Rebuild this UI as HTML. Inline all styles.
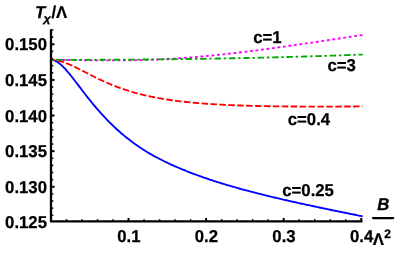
<!DOCTYPE html>
<html><head><meta charset="utf-8"><style>
html,body{margin:0;padding:0;background:#fff;}
body{width:400px;height:256px;overflow:hidden;}
svg{display:block;}
text{font-family:"Liberation Sans",sans-serif;font-weight:bold;font-size:17.2px;fill:#000;stroke:#000;stroke-width:0.25px;stroke-linejoin:round;text-rendering:geometricPrecision;}
svg{will-change:transform;}
</style></head><body>
<svg width="400" height="256" viewBox="0 0 400 256">
<rect width="400" height="256" fill="#fff"/>
<g fill="none" stroke-width="1.85">
<path d="M50.95 59.90 C51.28 59.94 52.26 59.98 52.91 60.12 C53.56 60.26 54.22 60.48 54.87 60.75 C55.52 61.02 56.18 61.36 56.83 61.74 C57.49 62.12 58.14 62.57 58.79 63.05 C59.45 63.53 60.10 64.06 60.75 64.63 C61.41 65.19 62.06 65.80 62.71 66.44 C63.37 67.07 64.02 67.74 64.67 68.44 C65.33 69.13 65.98 69.86 66.64 70.60 C67.29 71.34 67.94 72.11 68.60 72.89 C69.25 73.66 69.90 74.46 70.56 75.27 C71.21 76.08 71.86 76.90 72.52 77.73 C73.17 78.56 73.82 79.40 74.48 80.24 C75.13 81.09 75.79 81.94 76.44 82.79 C77.09 83.64 77.75 84.50 78.40 85.36 C79.05 86.21 79.71 87.07 80.36 87.93 C81.01 88.79 81.67 89.64 82.32 90.49 C82.97 91.35 83.63 92.20 84.28 93.04 C84.94 93.89 85.59 94.73 86.24 95.57 C86.90 96.40 87.55 97.23 88.20 98.06 C88.86 98.88 89.51 99.70 90.16 100.52 C90.82 101.33 91.47 102.14 92.12 102.93 C92.78 103.73 93.43 104.53 94.09 105.31 C94.74 106.09 95.39 106.87 96.05 107.64 C96.70 108.41 97.35 109.17 98.01 109.92 C98.66 110.67 99.31 111.42 99.97 112.15 C100.62 112.89 101.27 113.62 101.93 114.34 C102.58 115.06 103.24 115.77 103.89 116.47 C104.54 117.17 105.20 117.87 105.85 118.55 C106.50 119.24 107.16 119.92 107.81 120.59 C108.46 121.26 109.12 121.92 109.77 122.57 C110.42 123.23 111.08 123.87 111.73 124.51 C112.39 125.15 113.04 125.77 113.69 126.40 C114.35 127.02 115.00 127.63 115.65 128.24 C116.31 128.84 116.96 129.44 117.61 130.03 C118.27 130.62 118.92 131.20 119.57 131.78 C120.23 132.35 120.88 132.92 121.53 133.48 C122.19 134.04 122.84 134.59 123.50 135.14 C124.15 135.68 124.80 136.22 125.46 136.75 C126.11 137.28 126.76 137.81 127.42 138.32 C128.07 138.84 128.72 139.35 129.38 139.85 C130.03 140.36 130.68 140.85 131.34 141.35 C131.99 141.84 132.65 142.32 133.30 142.80 C133.95 143.27 134.61 143.74 135.26 144.21 C135.91 144.67 136.57 145.13 137.22 145.58 C137.87 146.03 138.53 146.48 139.18 146.92 C139.83 147.36 140.49 147.79 141.14 148.22 C141.80 148.65 142.45 149.07 143.10 149.49 C143.76 149.91 144.41 150.32 145.06 150.73 C145.72 151.13 146.37 151.53 147.02 151.93 C147.68 152.32 148.33 152.71 148.98 153.10 C149.64 153.49 150.29 153.87 150.95 154.24 C151.60 154.62 152.25 154.99 152.91 155.36 C153.56 155.72 154.21 156.08 154.87 156.44 C155.52 156.80 156.17 157.15 156.83 157.50 C157.48 157.85 158.13 158.20 158.79 158.54 C159.44 158.88 160.10 159.22 160.75 159.55 C161.40 159.88 162.06 160.21 162.71 160.54 C163.36 160.86 164.02 161.19 164.67 161.51 C165.32 161.82 165.98 162.14 166.63 162.45 C167.28 162.77 167.94 163.07 168.59 163.38 C169.25 163.69 169.90 163.99 170.55 164.29 C171.21 164.59 171.86 164.89 172.51 165.18 C173.17 165.48 173.82 165.77 174.47 166.06 C175.13 166.34 175.78 166.63 176.43 166.91 C177.09 167.20 177.74 167.48 178.39 167.76 C179.05 168.04 179.70 168.31 180.36 168.59 C181.01 168.86 181.66 169.13 182.32 169.40 C182.97 169.67 183.62 169.94 184.28 170.20 C184.93 170.47 185.58 170.73 186.24 170.99 C186.89 171.25 187.54 171.51 188.20 171.76 C188.85 172.02 189.51 172.28 190.16 172.53 C190.81 172.78 191.47 173.03 192.12 173.28 C192.77 173.53 193.43 173.77 194.08 174.02 C194.73 174.26 195.39 174.51 196.04 174.75 C196.69 174.99 197.35 175.23 198.00 175.47 C198.66 175.70 199.31 175.94 199.96 176.17 C200.62 176.41 201.27 176.64 201.92 176.87 C202.58 177.10 203.23 177.33 203.88 177.56 C204.54 177.78 205.19 178.01 205.84 178.23 C206.50 178.46 207.15 178.68 207.81 178.90 C208.46 179.12 209.11 179.34 209.77 179.56 C210.42 179.78 211.07 180.00 211.73 180.21 C212.38 180.43 213.03 180.64 213.69 180.85 C214.34 181.06 214.99 181.28 215.65 181.48 C216.30 181.69 216.96 181.90 217.61 182.11 C218.26 182.32 218.92 182.52 219.57 182.73 C220.22 182.93 220.88 183.13 221.53 183.33 C222.18 183.53 222.84 183.74 223.49 183.93 C224.14 184.13 224.80 184.33 225.45 184.53 C226.11 184.72 226.76 184.92 227.41 185.11 C228.07 185.31 228.72 185.50 229.37 185.69 C230.03 185.89 230.68 186.08 231.33 186.27 C231.99 186.46 232.64 186.64 233.29 186.83 C233.95 187.02 234.60 187.21 235.26 187.39 C235.91 187.58 236.56 187.76 237.22 187.94 C237.87 188.13 238.52 188.31 239.18 188.49 C239.83 188.67 240.48 188.85 241.14 189.03 C241.79 189.21 242.44 189.39 243.10 189.57 C243.75 189.75 244.40 189.92 245.06 190.10 C245.71 190.28 246.37 190.45 247.02 190.63 C247.67 190.80 248.33 190.97 248.98 191.15 C249.63 191.32 250.29 191.49 250.94 191.66 C251.59 191.83 252.25 192.00 252.90 192.17 C253.55 192.34 254.21 192.51 254.86 192.68 C255.52 192.85 256.17 193.01 256.82 193.18 C257.48 193.35 258.13 193.51 258.78 193.68 C259.44 193.84 260.09 194.00 260.74 194.17 C261.40 194.33 262.05 194.49 262.70 194.66 C263.36 194.82 264.01 194.98 264.67 195.14 C265.32 195.30 265.97 195.46 266.63 195.62 C267.28 195.78 267.93 195.94 268.59 196.10 C269.24 196.26 269.89 196.41 270.55 196.57 C271.20 196.73 271.85 196.89 272.51 197.04 C273.16 197.20 273.82 197.35 274.47 197.51 C275.12 197.66 275.78 197.82 276.43 197.97 C277.08 198.13 277.74 198.28 278.39 198.43 C279.04 198.58 279.70 198.74 280.35 198.89 C281.00 199.04 281.66 199.19 282.31 199.34 C282.97 199.49 283.62 199.64 284.27 199.79 C284.93 199.94 285.58 200.09 286.23 200.24 C286.89 200.39 287.54 200.54 288.19 200.69 C288.85 200.83 289.50 200.98 290.15 201.13 C290.81 201.28 291.46 201.42 292.12 201.57 C292.77 201.72 293.42 201.86 294.08 202.01 C294.73 202.15 295.38 202.30 296.04 202.44 C296.69 202.59 297.34 202.73 298.00 202.88 C298.65 203.02 299.30 203.17 299.96 203.31 C300.61 203.45 301.26 203.59 301.92 203.74 C302.57 203.88 303.23 204.02 303.88 204.16 C304.53 204.31 305.19 204.45 305.84 204.59 C306.49 204.73 307.15 204.87 307.80 205.01 C308.45 205.15 309.11 205.29 309.76 205.43 C310.41 205.57 311.07 205.71 311.72 205.85 C312.38 205.99 313.03 206.13 313.68 206.27 C314.34 206.41 314.99 206.55 315.64 206.69 C316.30 206.83 316.95 206.97 317.60 207.10 C318.26 207.24 318.91 207.38 319.56 207.52 C320.22 207.65 320.87 207.79 321.53 207.93 C322.18 208.07 322.83 208.20 323.49 208.34 C324.14 208.48 324.79 208.61 325.45 208.75 C326.10 208.89 326.75 209.02 327.41 209.16 C328.06 209.29 328.71 209.43 329.37 209.56 C330.02 209.70 330.68 209.84 331.33 209.97 C331.98 210.11 332.64 210.24 333.29 210.37 C333.94 210.51 334.60 210.64 335.25 210.78 C335.90 210.91 336.56 211.05 337.21 211.18 C337.86 211.32 338.52 211.45 339.17 211.58 C339.83 211.72 340.48 211.85 341.13 211.98 C341.79 212.12 342.44 212.25 343.09 212.39 C343.75 212.52 344.40 212.65 345.05 212.78 C345.71 212.92 346.36 213.05 347.01 213.18 C347.67 213.32 348.32 213.45 348.98 213.58 C349.63 213.71 350.28 213.85 350.94 213.98 C351.59 214.11 352.24 214.24 352.90 214.38 C353.55 214.51 354.20 214.64 354.86 214.77 C355.51 214.90 356.16 215.04 356.82 215.17 C357.47 215.30 358.13 215.43 358.78 215.56 C359.43 215.70 360.09 215.83 360.74 215.96 C361.39 216.09 362.37 216.29 362.70 216.35" stroke="#0000ff"/>
<path d="M50.95 59.90 C51.28 59.91 52.26 59.92 52.91 59.96 C53.56 60.00 54.22 60.07 54.87 60.15 C55.52 60.23 56.18 60.33 56.83 60.44 C57.49 60.56 58.14 60.69 58.79 60.84 C59.45 60.99 60.10 61.16 60.75 61.34 C61.41 61.52 62.06 61.71 62.71 61.92 C63.37 62.13 64.02 62.35 64.67 62.58 C65.33 62.82 65.98 63.06 66.64 63.32 C67.29 63.57 67.94 63.84 68.60 64.11 C69.25 64.38 69.90 64.67 70.56 64.95 C71.21 65.24 71.86 65.54 72.52 65.84 C73.17 66.15 73.82 66.46 74.48 66.77 C75.13 67.09 75.79 67.40 76.44 67.73 C77.09 68.05 77.75 68.38 78.40 68.71 C79.05 69.04 79.71 69.37 80.36 69.70 C81.01 70.04 81.67 70.37 82.32 70.71 C82.97 71.05 83.63 71.39 84.28 71.72 C84.94 72.06 85.59 72.40 86.24 72.74 C86.90 73.08 87.55 73.42 88.20 73.75 C88.86 74.09 89.51 74.42 90.16 74.76 C90.82 75.09 91.47 75.43 92.12 75.76 C92.78 76.09 93.43 76.42 94.09 76.74 C94.74 77.07 95.39 77.39 96.05 77.72 C96.70 78.04 97.35 78.36 98.01 78.67 C98.66 78.99 99.31 79.30 99.97 79.61 C100.62 79.92 101.27 80.23 101.93 80.53 C102.58 80.83 103.24 81.13 103.89 81.43 C104.54 81.72 105.20 82.02 105.85 82.31 C106.50 82.59 107.16 82.88 107.81 83.16 C108.46 83.44 109.12 83.72 109.77 84.00 C110.42 84.27 111.08 84.54 111.73 84.81 C112.39 85.07 113.04 85.34 113.69 85.60 C114.35 85.86 115.00 86.11 115.65 86.36 C116.31 86.61 116.96 86.86 117.61 87.11 C118.27 87.35 118.92 87.59 119.57 87.83 C120.23 88.06 120.88 88.30 121.53 88.52 C122.19 88.75 122.84 88.98 123.50 89.20 C124.15 89.42 124.80 89.64 125.46 89.86 C126.11 90.07 126.76 90.28 127.42 90.49 C128.07 90.70 128.72 90.90 129.38 91.10 C130.03 91.30 130.68 91.50 131.34 91.69 C131.99 91.89 132.65 92.08 133.30 92.27 C133.95 92.45 134.61 92.64 135.26 92.82 C135.91 93.00 136.57 93.18 137.22 93.35 C137.87 93.53 138.53 93.70 139.18 93.87 C139.83 94.04 140.49 94.20 141.14 94.36 C141.80 94.53 142.45 94.69 143.10 94.84 C143.76 95.00 144.41 95.16 145.06 95.31 C145.72 95.46 146.37 95.61 147.02 95.75 C147.68 95.90 148.33 96.04 148.98 96.18 C149.64 96.33 150.29 96.46 150.95 96.60 C151.60 96.74 152.25 96.87 152.91 97.00 C153.56 97.13 154.21 97.26 154.87 97.39 C155.52 97.51 156.17 97.64 156.83 97.76 C157.48 97.88 158.13 98.00 158.79 98.12 C159.44 98.24 160.10 98.35 160.75 98.46 C161.40 98.58 162.06 98.69 162.71 98.80 C163.36 98.91 164.02 99.01 164.67 99.12 C165.32 99.23 165.98 99.33 166.63 99.43 C167.28 99.53 167.94 99.63 168.59 99.73 C169.25 99.83 169.90 99.92 170.55 100.02 C171.21 100.11 171.86 100.20 172.51 100.29 C173.17 100.38 173.82 100.47 174.47 100.56 C175.13 100.65 175.78 100.73 176.43 100.82 C177.09 100.90 177.74 100.98 178.39 101.06 C179.05 101.15 179.70 101.22 180.36 101.30 C181.01 101.38 181.66 101.46 182.32 101.53 C182.97 101.61 183.62 101.68 184.28 101.75 C184.93 101.83 185.58 101.90 186.24 101.97 C186.89 102.04 187.54 102.10 188.20 102.17 C188.85 102.24 189.51 102.30 190.16 102.37 C190.81 102.43 191.47 102.50 192.12 102.56 C192.77 102.62 193.43 102.68 194.08 102.74 C194.73 102.80 195.39 102.86 196.04 102.92 C196.69 102.98 197.35 103.03 198.00 103.09 C198.66 103.14 199.31 103.20 199.96 103.25 C200.62 103.30 201.27 103.36 201.92 103.41 C202.58 103.46 203.23 103.51 203.88 103.56 C204.54 103.61 205.19 103.66 205.84 103.70 C206.50 103.75 207.15 103.80 207.81 103.84 C208.46 103.89 209.11 103.93 209.77 103.98 C210.42 104.02 211.07 104.07 211.73 104.11 C212.38 104.15 213.03 104.19 213.69 104.23 C214.34 104.27 214.99 104.31 215.65 104.35 C216.30 104.39 216.96 104.43 217.61 104.47 C218.26 104.50 218.92 104.54 219.57 104.58 C220.22 104.61 220.88 104.65 221.53 104.68 C222.18 104.72 222.84 104.75 223.49 104.78 C224.14 104.82 224.80 104.85 225.45 104.88 C226.11 104.91 226.76 104.94 227.41 104.97 C228.07 105.00 228.72 105.03 229.37 105.06 C230.03 105.09 230.68 105.12 231.33 105.15 C231.99 105.18 232.64 105.20 233.29 105.23 C233.95 105.26 234.60 105.28 235.26 105.31 C235.91 105.34 236.56 105.36 237.22 105.39 C237.87 105.41 238.52 105.43 239.18 105.46 C239.83 105.48 240.48 105.50 241.14 105.53 C241.79 105.55 242.44 105.57 243.10 105.59 C243.75 105.61 244.40 105.64 245.06 105.66 C245.71 105.68 246.37 105.70 247.02 105.72 C247.67 105.74 248.33 105.76 248.98 105.77 C249.63 105.79 250.29 105.81 250.94 105.83 C251.59 105.85 252.25 105.87 252.90 105.88 C253.55 105.90 254.21 105.92 254.86 105.93 C255.52 105.95 256.17 105.96 256.82 105.98 C257.48 106.00 258.13 106.01 258.78 106.03 C259.44 106.04 260.09 106.05 260.74 106.07 C261.40 106.08 262.05 106.10 262.70 106.11 C263.36 106.12 264.01 106.14 264.67 106.15 C265.32 106.16 265.97 106.17 266.63 106.18 C267.28 106.20 267.93 106.21 268.59 106.22 C269.24 106.23 269.89 106.24 270.55 106.25 C271.20 106.26 271.85 106.27 272.51 106.28 C273.16 106.29 273.82 106.30 274.47 106.31 C275.12 106.32 275.78 106.33 276.43 106.34 C277.08 106.35 277.74 106.36 278.39 106.36 C279.04 106.37 279.70 106.38 280.35 106.39 C281.00 106.40 281.66 106.40 282.31 106.41 C282.97 106.42 283.62 106.43 284.27 106.43 C284.93 106.44 285.58 106.45 286.23 106.45 C286.89 106.46 287.54 106.46 288.19 106.47 C288.85 106.48 289.50 106.48 290.15 106.49 C290.81 106.49 291.46 106.50 292.12 106.50 C292.77 106.51 293.42 106.51 294.08 106.51 C294.73 106.52 295.38 106.52 296.04 106.53 C296.69 106.53 297.34 106.54 298.00 106.54 C298.65 106.54 299.30 106.55 299.96 106.55 C300.61 106.55 301.26 106.55 301.92 106.56 C302.57 106.56 303.23 106.56 303.88 106.57 C304.53 106.57 305.19 106.57 305.84 106.57 C306.49 106.57 307.15 106.58 307.80 106.58 C308.45 106.58 309.11 106.58 309.76 106.58 C310.41 106.58 311.07 106.58 311.72 106.59 C312.38 106.59 313.03 106.59 313.68 106.59 C314.34 106.59 314.99 106.59 315.64 106.59 C316.30 106.59 316.95 106.59 317.60 106.59 C318.26 106.59 318.91 106.59 319.56 106.59 C320.22 106.59 320.87 106.59 321.53 106.59 C322.18 106.59 322.83 106.59 323.49 106.59 C324.14 106.59 324.79 106.59 325.45 106.59 C326.10 106.58 326.75 106.58 327.41 106.58 C328.06 106.58 328.71 106.58 329.37 106.58 C330.02 106.58 330.68 106.57 331.33 106.57 C331.98 106.57 332.64 106.57 333.29 106.57 C333.94 106.57 334.60 106.56 335.25 106.56 C335.90 106.56 336.56 106.56 337.21 106.55 C337.86 106.55 338.52 106.55 339.17 106.55 C339.83 106.54 340.48 106.54 341.13 106.54 C341.79 106.53 342.44 106.53 343.09 106.53 C343.75 106.53 344.40 106.52 345.05 106.52 C345.71 106.52 346.36 106.51 347.01 106.51 C347.67 106.51 348.32 106.50 348.98 106.50 C349.63 106.49 350.28 106.49 350.94 106.49 C351.59 106.48 352.24 106.48 352.90 106.48 C353.55 106.47 354.20 106.47 354.86 106.46 C355.51 106.46 356.16 106.45 356.82 106.45 C357.47 106.45 358.13 106.44 358.78 106.44 C359.43 106.43 360.09 106.43 360.74 106.42 C361.39 106.42 362.37 106.41 362.70 106.41" stroke="#ff0000" stroke-dasharray="6.52 2.395" stroke-dashoffset="2.2"/>
<path d="M50.95 59.90 C51.28 59.90 52.26 59.90 52.91 59.90 C53.56 59.90 54.22 59.90 54.87 59.91 C55.52 59.91 56.18 59.91 56.83 59.92 C57.49 59.92 58.14 59.92 58.79 59.93 C59.45 59.93 60.10 59.94 60.75 59.94 C61.41 59.95 62.06 59.95 62.71 59.96 C63.37 59.96 64.02 59.97 64.67 59.98 C65.33 59.98 65.98 59.99 66.64 60.00 C67.29 60.00 67.94 60.01 68.60 60.02 C69.25 60.03 69.90 60.03 70.56 60.04 C71.21 60.05 71.86 60.06 72.52 60.07 C73.17 60.07 73.82 60.08 74.48 60.09 C75.13 60.10 75.79 60.11 76.44 60.12 C77.09 60.13 77.75 60.13 78.40 60.14 C79.05 60.15 79.71 60.16 80.36 60.17 C81.01 60.18 81.67 60.19 82.32 60.19 C82.97 60.20 83.63 60.21 84.28 60.22 C84.94 60.23 85.59 60.24 86.24 60.24 C86.90 60.25 87.55 60.26 88.20 60.27 C88.86 60.28 89.51 60.28 90.16 60.29 C90.82 60.30 91.47 60.31 92.12 60.31 C92.78 60.32 93.43 60.33 94.09 60.33 C94.74 60.34 95.39 60.35 96.05 60.35 C96.70 60.36 97.35 60.36 98.01 60.37 C98.66 60.38 99.31 60.38 99.97 60.39 C100.62 60.39 101.27 60.39 101.93 60.40 C102.58 60.40 103.24 60.41 103.89 60.41 C104.54 60.41 105.20 60.42 105.85 60.42 C106.50 60.42 107.16 60.42 107.81 60.43 C108.46 60.43 109.12 60.43 109.77 60.43 C110.42 60.43 111.08 60.43 111.73 60.43 C112.39 60.43 113.04 60.43 113.69 60.43 C114.35 60.43 115.00 60.43 115.65 60.43 C116.31 60.42 116.96 60.42 117.61 60.42 C118.27 60.42 118.92 60.41 119.57 60.41 C120.23 60.40 120.88 60.40 121.53 60.39 C122.19 60.39 122.84 60.38 123.50 60.38 C124.15 60.37 124.80 60.36 125.46 60.36 C126.11 60.35 126.76 60.34 127.42 60.33 C128.07 60.33 128.72 60.32 129.38 60.31 C130.03 60.30 130.68 60.29 131.34 60.28 C131.99 60.26 132.65 60.25 133.30 60.24 C133.95 60.23 134.61 60.22 135.26 60.20 C135.91 60.19 136.57 60.18 137.22 60.16 C137.87 60.15 138.53 60.13 139.18 60.11 C139.83 60.10 140.49 60.08 141.14 60.07 C141.80 60.05 142.45 60.03 143.10 60.01 C143.76 59.99 144.41 59.97 145.06 59.95 C145.72 59.93 146.37 59.91 147.02 59.89 C147.68 59.87 148.33 59.85 148.98 59.83 C149.64 59.80 150.29 59.78 150.95 59.76 C151.60 59.73 152.25 59.71 152.91 59.68 C153.56 59.66 154.21 59.63 154.87 59.60 C155.52 59.58 156.17 59.55 156.83 59.52 C157.48 59.49 158.13 59.46 158.79 59.43 C159.44 59.40 160.10 59.37 160.75 59.34 C161.40 59.31 162.06 59.28 162.71 59.25 C163.36 59.22 164.02 59.18 164.67 59.15 C165.32 59.12 165.98 59.08 166.63 59.05 C167.28 59.01 167.94 58.97 168.59 58.94 C169.25 58.90 169.90 58.86 170.55 58.83 C171.21 58.79 171.86 58.75 172.51 58.71 C173.17 58.67 173.82 58.63 174.47 58.59 C175.13 58.55 175.78 58.51 176.43 58.47 C177.09 58.42 177.74 58.38 178.39 58.34 C179.05 58.29 179.70 58.25 180.36 58.21 C181.01 58.16 181.66 58.11 182.32 58.07 C182.97 58.02 183.62 57.98 184.28 57.93 C184.93 57.88 185.58 57.83 186.24 57.78 C186.89 57.73 187.54 57.68 188.20 57.63 C188.85 57.58 189.51 57.53 190.16 57.48 C190.81 57.43 191.47 57.38 192.12 57.33 C192.77 57.27 193.43 57.22 194.08 57.17 C194.73 57.11 195.39 57.06 196.04 57.00 C196.69 56.95 197.35 56.89 198.00 56.83 C198.66 56.78 199.31 56.72 199.96 56.66 C200.62 56.60 201.27 56.54 201.92 56.49 C202.58 56.43 203.23 56.37 203.88 56.31 C204.54 56.25 205.19 56.19 205.84 56.12 C206.50 56.06 207.15 56.00 207.81 55.94 C208.46 55.87 209.11 55.81 209.77 55.75 C210.42 55.68 211.07 55.62 211.73 55.55 C212.38 55.49 213.03 55.42 213.69 55.36 C214.34 55.29 214.99 55.22 215.65 55.16 C216.30 55.09 216.96 55.02 217.61 54.95 C218.26 54.89 218.92 54.82 219.57 54.75 C220.22 54.68 220.88 54.61 221.53 54.54 C222.18 54.47 222.84 54.40 223.49 54.33 C224.14 54.25 224.80 54.18 225.45 54.11 C226.11 54.04 226.76 53.96 227.41 53.89 C228.07 53.82 228.72 53.74 229.37 53.67 C230.03 53.60 230.68 53.52 231.33 53.44 C231.99 53.37 232.64 53.29 233.29 53.22 C233.95 53.14 234.60 53.06 235.26 52.99 C235.91 52.91 236.56 52.83 237.22 52.76 C237.87 52.68 238.52 52.60 239.18 52.52 C239.83 52.44 240.48 52.36 241.14 52.28 C241.79 52.20 242.44 52.12 243.10 52.04 C243.75 51.96 244.40 51.88 245.06 51.80 C245.71 51.72 246.37 51.64 247.02 51.56 C247.67 51.47 248.33 51.39 248.98 51.31 C249.63 51.23 250.29 51.14 250.94 51.06 C251.59 50.98 252.25 50.89 252.90 50.81 C253.55 50.72 254.21 50.64 254.86 50.55 C255.52 50.47 256.17 50.38 256.82 50.30 C257.48 50.21 258.13 50.13 258.78 50.04 C259.44 49.96 260.09 49.87 260.74 49.78 C261.40 49.70 262.05 49.61 262.70 49.52 C263.36 49.43 264.01 49.35 264.67 49.26 C265.32 49.17 265.97 49.08 266.63 49.00 C267.28 48.91 267.93 48.82 268.59 48.73 C269.24 48.64 269.89 48.55 270.55 48.46 C271.20 48.37 271.85 48.28 272.51 48.19 C273.16 48.10 273.82 48.01 274.47 47.92 C275.12 47.83 275.78 47.74 276.43 47.65 C277.08 47.56 277.74 47.47 278.39 47.38 C279.04 47.29 279.70 47.20 280.35 47.11 C281.00 47.01 281.66 46.92 282.31 46.83 C282.97 46.74 283.62 46.65 284.27 46.55 C284.93 46.46 285.58 46.37 286.23 46.28 C286.89 46.18 287.54 46.09 288.19 46.00 C288.85 45.90 289.50 45.81 290.15 45.72 C290.81 45.63 291.46 45.53 292.12 45.44 C292.77 45.34 293.42 45.25 294.08 45.16 C294.73 45.06 295.38 44.97 296.04 44.87 C296.69 44.78 297.34 44.69 298.00 44.59 C298.65 44.50 299.30 44.40 299.96 44.31 C300.61 44.21 301.26 44.12 301.92 44.02 C302.57 43.93 303.23 43.83 303.88 43.74 C304.53 43.64 305.19 43.55 305.84 43.45 C306.49 43.36 307.15 43.26 307.80 43.16 C308.45 43.07 309.11 42.97 309.76 42.88 C310.41 42.78 311.07 42.69 311.72 42.59 C312.38 42.49 313.03 42.40 313.68 42.30 C314.34 42.20 314.99 42.11 315.64 42.01 C316.30 41.92 316.95 41.82 317.60 41.72 C318.26 41.63 318.91 41.53 319.56 41.43 C320.22 41.33 320.87 41.24 321.53 41.14 C322.18 41.04 322.83 40.95 323.49 40.85 C324.14 40.75 324.79 40.65 325.45 40.56 C326.10 40.46 326.75 40.36 327.41 40.26 C328.06 40.17 328.71 40.07 329.37 39.97 C330.02 39.87 330.68 39.78 331.33 39.68 C331.98 39.58 332.64 39.48 333.29 39.38 C333.94 39.29 334.60 39.19 335.25 39.09 C335.90 38.99 336.56 38.89 337.21 38.79 C337.86 38.69 338.52 38.60 339.17 38.50 C339.83 38.40 340.48 38.30 341.13 38.20 C341.79 38.10 342.44 38.00 343.09 37.90 C343.75 37.80 344.40 37.70 345.05 37.60 C345.71 37.50 346.36 37.40 347.01 37.30 C347.67 37.20 348.32 37.10 348.98 37.00 C349.63 36.90 350.28 36.80 350.94 36.70 C351.59 36.60 352.24 36.50 352.90 36.40 C353.55 36.30 354.20 36.20 354.86 36.10 C355.51 36.00 356.16 35.89 356.82 35.79 C357.47 35.69 358.13 35.59 358.78 35.49 C359.43 35.39 360.09 35.28 360.74 35.18 C361.39 35.08 362.37 34.92 362.70 34.87" stroke="#ff00ff" stroke-dasharray="2.9 2.64"/>
<path d="M50.95 59.90 C51.28 59.90 52.26 59.90 52.91 59.90 C53.56 59.90 54.22 59.90 54.87 59.90 C55.52 59.90 56.18 59.90 56.83 59.90 C57.49 59.90 58.14 59.90 58.79 59.90 C59.45 59.90 60.10 59.90 60.75 59.90 C61.41 59.90 62.06 59.89 62.71 59.89 C63.37 59.89 64.02 59.89 64.67 59.89 C65.33 59.89 65.98 59.89 66.64 59.89 C67.29 59.89 67.94 59.89 68.60 59.89 C69.25 59.89 69.90 59.88 70.56 59.88 C71.21 59.88 71.86 59.88 72.52 59.88 C73.17 59.88 73.82 59.88 74.48 59.88 C75.13 59.88 75.79 59.87 76.44 59.87 C77.09 59.87 77.75 59.87 78.40 59.87 C79.05 59.87 79.71 59.86 80.36 59.86 C81.01 59.86 81.67 59.86 82.32 59.86 C82.97 59.86 83.63 59.85 84.28 59.85 C84.94 59.85 85.59 59.85 86.24 59.85 C86.90 59.84 87.55 59.84 88.20 59.84 C88.86 59.84 89.51 59.84 90.16 59.83 C90.82 59.83 91.47 59.83 92.12 59.83 C92.78 59.82 93.43 59.82 94.09 59.82 C94.74 59.82 95.39 59.81 96.05 59.81 C96.70 59.81 97.35 59.81 98.01 59.80 C98.66 59.80 99.31 59.80 99.97 59.80 C100.62 59.79 101.27 59.79 101.93 59.79 C102.58 59.78 103.24 59.78 103.89 59.78 C104.54 59.77 105.20 59.77 105.85 59.77 C106.50 59.76 107.16 59.76 107.81 59.76 C108.46 59.75 109.12 59.75 109.77 59.75 C110.42 59.74 111.08 59.74 111.73 59.74 C112.39 59.73 113.04 59.73 113.69 59.73 C114.35 59.72 115.00 59.72 115.65 59.71 C116.31 59.71 116.96 59.71 117.61 59.70 C118.27 59.70 118.92 59.69 119.57 59.69 C120.23 59.69 120.88 59.68 121.53 59.68 C122.19 59.67 122.84 59.67 123.50 59.67 C124.15 59.66 124.80 59.66 125.46 59.65 C126.11 59.65 126.76 59.64 127.42 59.64 C128.07 59.63 128.72 59.63 129.38 59.62 C130.03 59.62 130.68 59.61 131.34 59.61 C131.99 59.60 132.65 59.60 133.30 59.59 C133.95 59.59 134.61 59.58 135.26 59.58 C135.91 59.57 136.57 59.57 137.22 59.56 C137.87 59.56 138.53 59.55 139.18 59.55 C139.83 59.54 140.49 59.54 141.14 59.53 C141.80 59.53 142.45 59.52 143.10 59.51 C143.76 59.51 144.41 59.50 145.06 59.50 C145.72 59.49 146.37 59.48 147.02 59.48 C147.68 59.47 148.33 59.47 148.98 59.46 C149.64 59.45 150.29 59.45 150.95 59.44 C151.60 59.44 152.25 59.43 152.91 59.42 C153.56 59.42 154.21 59.41 154.87 59.40 C155.52 59.40 156.17 59.39 156.83 59.38 C157.48 59.38 158.13 59.37 158.79 59.36 C159.44 59.36 160.10 59.35 160.75 59.34 C161.40 59.34 162.06 59.33 162.71 59.32 C163.36 59.31 164.02 59.31 164.67 59.30 C165.32 59.29 165.98 59.28 166.63 59.28 C167.28 59.27 167.94 59.26 168.59 59.25 C169.25 59.25 169.90 59.24 170.55 59.23 C171.21 59.22 171.86 59.22 172.51 59.21 C173.17 59.20 173.82 59.19 174.47 59.18 C175.13 59.18 175.78 59.17 176.43 59.16 C177.09 59.15 177.74 59.14 178.39 59.14 C179.05 59.13 179.70 59.12 180.36 59.11 C181.01 59.10 181.66 59.09 182.32 59.08 C182.97 59.08 183.62 59.07 184.28 59.06 C184.93 59.05 185.58 59.04 186.24 59.03 C186.89 59.02 187.54 59.01 188.20 59.01 C188.85 59.00 189.51 58.99 190.16 58.98 C190.81 58.97 191.47 58.96 192.12 58.95 C192.77 58.94 193.43 58.93 194.08 58.92 C194.73 58.91 195.39 58.90 196.04 58.89 C196.69 58.88 197.35 58.87 198.00 58.86 C198.66 58.85 199.31 58.84 199.96 58.83 C200.62 58.82 201.27 58.81 201.92 58.80 C202.58 58.79 203.23 58.78 203.88 58.77 C204.54 58.76 205.19 58.75 205.84 58.74 C206.50 58.73 207.15 58.72 207.81 58.71 C208.46 58.70 209.11 58.69 209.77 58.68 C210.42 58.67 211.07 58.66 211.73 58.64 C212.38 58.63 213.03 58.62 213.69 58.61 C214.34 58.60 214.99 58.59 215.65 58.58 C216.30 58.57 216.96 58.56 217.61 58.54 C218.26 58.53 218.92 58.52 219.57 58.51 C220.22 58.50 220.88 58.49 221.53 58.47 C222.18 58.46 222.84 58.45 223.49 58.44 C224.14 58.43 224.80 58.41 225.45 58.40 C226.11 58.39 226.76 58.38 227.41 58.37 C228.07 58.35 228.72 58.34 229.37 58.33 C230.03 58.32 230.68 58.30 231.33 58.29 C231.99 58.28 232.64 58.27 233.29 58.25 C233.95 58.24 234.60 58.23 235.26 58.21 C235.91 58.20 236.56 58.19 237.22 58.18 C237.87 58.16 238.52 58.15 239.18 58.14 C239.83 58.12 240.48 58.11 241.14 58.10 C241.79 58.08 242.44 58.07 243.10 58.06 C243.75 58.04 244.40 58.03 245.06 58.01 C245.71 58.00 246.37 57.99 247.02 57.97 C247.67 57.96 248.33 57.94 248.98 57.93 C249.63 57.92 250.29 57.90 250.94 57.89 C251.59 57.87 252.25 57.86 252.90 57.84 C253.55 57.83 254.21 57.82 254.86 57.80 C255.52 57.79 256.17 57.77 256.82 57.76 C257.48 57.74 258.13 57.73 258.78 57.71 C259.44 57.70 260.09 57.68 260.74 57.67 C261.40 57.65 262.05 57.64 262.70 57.62 C263.36 57.60 264.01 57.59 264.67 57.57 C265.32 57.56 265.97 57.54 266.63 57.53 C267.28 57.51 267.93 57.50 268.59 57.48 C269.24 57.46 269.89 57.45 270.55 57.43 C271.20 57.41 271.85 57.40 272.51 57.38 C273.16 57.37 273.82 57.35 274.47 57.33 C275.12 57.32 275.78 57.30 276.43 57.28 C277.08 57.27 277.74 57.25 278.39 57.23 C279.04 57.22 279.70 57.20 280.35 57.18 C281.00 57.17 281.66 57.15 282.31 57.13 C282.97 57.11 283.62 57.10 284.27 57.08 C284.93 57.06 285.58 57.04 286.23 57.03 C286.89 57.01 287.54 56.99 288.19 56.97 C288.85 56.96 289.50 56.94 290.15 56.92 C290.81 56.90 291.46 56.88 292.12 56.87 C292.77 56.85 293.42 56.83 294.08 56.81 C294.73 56.79 295.38 56.77 296.04 56.76 C296.69 56.74 297.34 56.72 298.00 56.70 C298.65 56.68 299.30 56.66 299.96 56.64 C300.61 56.62 301.26 56.61 301.92 56.59 C302.57 56.57 303.23 56.55 303.88 56.53 C304.53 56.51 305.19 56.49 305.84 56.47 C306.49 56.45 307.15 56.43 307.80 56.41 C308.45 56.39 309.11 56.37 309.76 56.35 C310.41 56.33 311.07 56.31 311.72 56.29 C312.38 56.27 313.03 56.25 313.68 56.23 C314.34 56.21 314.99 56.19 315.64 56.17 C316.30 56.15 316.95 56.13 317.60 56.11 C318.26 56.09 318.91 56.07 319.56 56.05 C320.22 56.03 320.87 56.01 321.53 55.98 C322.18 55.96 322.83 55.94 323.49 55.92 C324.14 55.90 324.79 55.88 325.45 55.86 C326.10 55.84 326.75 55.81 327.41 55.79 C328.06 55.77 328.71 55.75 329.37 55.73 C330.02 55.70 330.68 55.68 331.33 55.66 C331.98 55.64 332.64 55.62 333.29 55.59 C333.94 55.57 334.60 55.55 335.25 55.53 C335.90 55.50 336.56 55.48 337.21 55.46 C337.86 55.44 338.52 55.41 339.17 55.39 C339.83 55.37 340.48 55.35 341.13 55.32 C341.79 55.30 342.44 55.28 343.09 55.25 C343.75 55.23 344.40 55.21 345.05 55.18 C345.71 55.16 346.36 55.14 347.01 55.11 C347.67 55.09 348.32 55.06 348.98 55.04 C349.63 55.02 350.28 54.99 350.94 54.97 C351.59 54.94 352.24 54.92 352.90 54.90 C353.55 54.87 354.20 54.85 354.86 54.82 C355.51 54.80 356.16 54.77 356.82 54.75 C357.47 54.72 358.13 54.70 358.78 54.67 C359.43 54.65 360.09 54.62 360.74 54.60 C361.39 54.57 362.37 54.53 362.70 54.52" stroke="#00aa00" stroke-dasharray="2.4 2.8 6.4 2.8"/>
</g>
<path d="M51.00 29.3 L51.00 221.45 L362.5 221.45" stroke="#000" stroke-width="2.3" fill="none" stroke-linejoin="round"/>
<g stroke="#000" stroke-width="2"><line x1="128.53" y1="221.45" x2="128.53" y2="217.95"/><line x1="206.11" y1="221.45" x2="206.11" y2="217.95"/><line x1="283.69" y1="221.45" x2="283.69" y2="217.95"/><line x1="361.27" y1="221.45" x2="361.27" y2="217.95"/><line x1="51.00" y1="186.78" x2="54.50" y2="186.78"/><line x1="51.00" y1="151.16" x2="54.50" y2="151.16"/><line x1="51.00" y1="115.54" x2="54.50" y2="115.54"/><line x1="51.00" y1="79.92" x2="54.50" y2="79.92"/><line x1="51.00" y1="44.30" x2="54.50" y2="44.30"/></g>
<g stroke="#000" stroke-width="1.5"><line x1="66.47" y1="221.45" x2="66.47" y2="219.15"/><line x1="81.98" y1="221.45" x2="81.98" y2="219.15"/><line x1="97.50" y1="221.45" x2="97.50" y2="219.15"/><line x1="113.01" y1="221.45" x2="113.01" y2="219.15"/><line x1="144.05" y1="221.45" x2="144.05" y2="219.15"/><line x1="159.56" y1="221.45" x2="159.56" y2="219.15"/><line x1="175.08" y1="221.45" x2="175.08" y2="219.15"/><line x1="190.59" y1="221.45" x2="190.59" y2="219.15"/><line x1="221.63" y1="221.45" x2="221.63" y2="219.15"/><line x1="237.14" y1="221.45" x2="237.14" y2="219.15"/><line x1="252.66" y1="221.45" x2="252.66" y2="219.15"/><line x1="268.17" y1="221.45" x2="268.17" y2="219.15"/><line x1="299.21" y1="221.45" x2="299.21" y2="219.15"/><line x1="314.72" y1="221.45" x2="314.72" y2="219.15"/><line x1="330.24" y1="221.45" x2="330.24" y2="219.15"/><line x1="345.75" y1="221.45" x2="345.75" y2="219.15"/><line x1="51.00" y1="215.28" x2="53.30" y2="215.28"/><line x1="51.00" y1="208.15" x2="53.30" y2="208.15"/><line x1="51.00" y1="201.03" x2="53.30" y2="201.03"/><line x1="51.00" y1="193.90" x2="53.30" y2="193.90"/><line x1="51.00" y1="179.66" x2="53.30" y2="179.66"/><line x1="51.00" y1="172.53" x2="53.30" y2="172.53"/><line x1="51.00" y1="165.41" x2="53.30" y2="165.41"/><line x1="51.00" y1="158.28" x2="53.30" y2="158.28"/><line x1="51.00" y1="144.04" x2="53.30" y2="144.04"/><line x1="51.00" y1="136.91" x2="53.30" y2="136.91"/><line x1="51.00" y1="129.79" x2="53.30" y2="129.79"/><line x1="51.00" y1="122.66" x2="53.30" y2="122.66"/><line x1="51.00" y1="108.42" x2="53.30" y2="108.42"/><line x1="51.00" y1="101.29" x2="53.30" y2="101.29"/><line x1="51.00" y1="94.17" x2="53.30" y2="94.17"/><line x1="51.00" y1="87.04" x2="53.30" y2="87.04"/><line x1="51.00" y1="72.80" x2="53.30" y2="72.80"/><line x1="51.00" y1="65.67" x2="53.30" y2="65.67"/><line x1="51.00" y1="58.55" x2="53.30" y2="58.55"/><line x1="51.00" y1="51.42" x2="53.30" y2="51.42"/><line x1="51.00" y1="37.18" x2="53.30" y2="37.18"/><line x1="51.00" y1="30.05" x2="53.30" y2="30.05"/></g>
<text transform="translate(47.00 228.40) scale(0.975 1)" text-anchor="end">0.125</text><text transform="translate(47.00 192.78) scale(0.975 1)" text-anchor="end">0.130</text><text transform="translate(47.00 157.16) scale(0.975 1)" text-anchor="end">0.135</text><text transform="translate(47.00 121.54) scale(0.975 1)" text-anchor="end">0.140</text><text transform="translate(47.00 85.92) scale(0.975 1)" text-anchor="end">0.145</text><text transform="translate(47.00 50.30) scale(0.975 1)" text-anchor="end">0.150</text><text transform="translate(128.83 241.50) scale(0.975 1)" text-anchor="middle">0.1</text><text transform="translate(206.41 241.50) scale(0.975 1)" text-anchor="middle">0.2</text><text transform="translate(283.99 241.50) scale(0.975 1)" text-anchor="middle">0.3</text><text transform="translate(361.57 241.50) scale(0.975 1)" text-anchor="middle">0.4</text><text transform="translate(34.90 18.20) scale(0.975 1)" text-anchor="start" font-style="italic">T</text><text transform="translate(43.40 21.55) scale(1.220 1)" text-anchor="start" font-style="italic" style="font-size:10.5px">χ</text><text transform="translate(51.60 18.20) scale(0.975 1)" text-anchor="start">/</text><text transform="translate(56.00 18.20) scale(0.975 1)" text-anchor="start">Λ</text><text transform="translate(253.20 42.50) scale(0.975 1)" text-anchor="start">c=1</text><text transform="translate(327.50 70.90) scale(0.975 1)" text-anchor="start">c=3</text><text transform="translate(287.70 125.20) scale(0.975 1)" text-anchor="start">c=0.4</text><text transform="translate(282.20 195.90) scale(0.975 1)" text-anchor="start">c=0.25</text><text transform="translate(377.30 209.55) scale(0.975 1)" text-anchor="start" font-style="italic">B</text><text transform="translate(372.80 244.90) scale(0.975 1)" text-anchor="start">Λ</text><text transform="translate(384.30 237.70) scale(0.975 1)" text-anchor="start" style="font-size:12.3px">2</text>
<line x1="373" y1="218.1" x2="393.2" y2="218.1" stroke="#000" stroke-width="2.1" stroke-linecap="round"/>
</svg>
</body></html>
